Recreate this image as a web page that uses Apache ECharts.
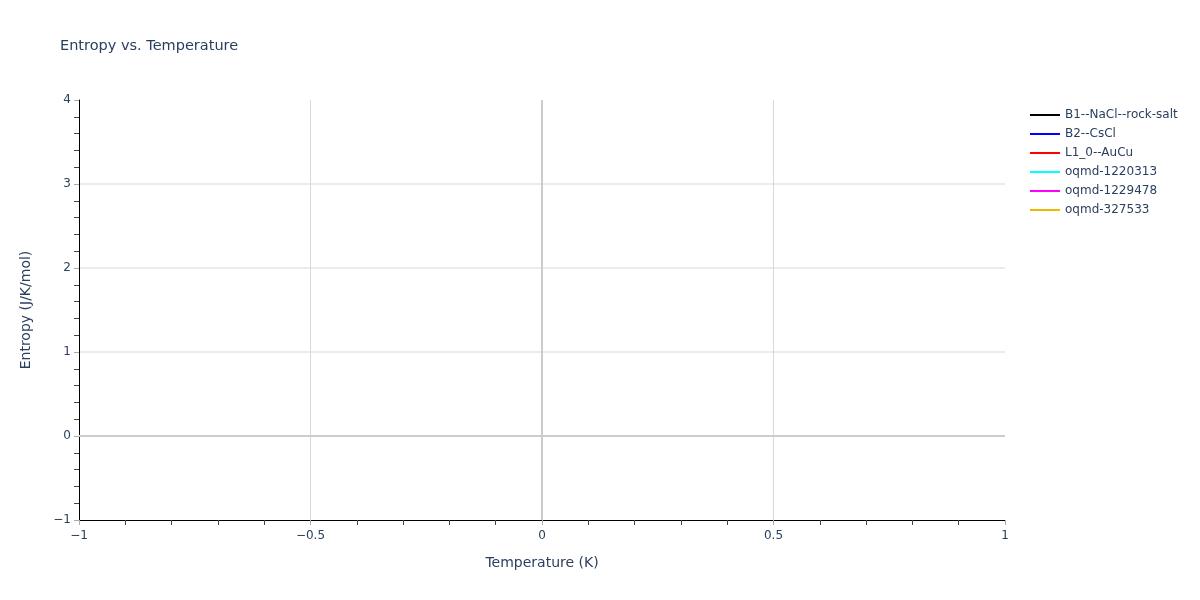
<!DOCTYPE html>
<html>
<head>
<meta charset="utf-8">
<script src="https://cdn.jsdelivr.net/npm/echarts@6/dist/echarts.min.js"></script>
<style>html,body{margin:0;padding:0;background:#fff}#c{width:1200px;height:600px}</style>
</head>
<body>
<div id="c"></div>
<script>
const seriesNames = ['B1--NaCl--rock-salt','B2--CsCl','L1_0--AuCu','oqmd-1220313','oqmd-1229478','oqmd-327533'];
const seriesColors = ['#000000','#0000ff','#ff0000','#00ffff','#ff00ff','#f2b600'];
// all series are empty in the reference
const seriesData = [[],[],[],[],[],[]];
const xRange = [-1, 1];
const yRange = [-1, 4];

const FONT = '"DejaVu Sans", Verdana, sans-serif';
const TXT = '#2a3f5f';
const fmt = v => (v < 0 ? '\u2212' + Math.abs(v) : String(v));

const chart = echarts.init(document.getElementById('c'));
const series = seriesNames.map((n, i) => ({
  name: n, type: 'line', data: seriesData[i], showSymbol: false,
  lineStyle: {color: seriesColors[i], width: 2}, itemStyle: {color: seriesColors[i]}
}));
series[0].markLine = {
  silent: true, symbol: 'none', label: {show: false}, animation: false,
  lineStyle: {color: '#cccccc', width: 2, type: 'solid'},
  data: [{xAxis: 0}, {yAxis: 0}]
};
chart.setOption({
  animation: false,
  textStyle: {fontFamily: FONT},
  title: {text: 'Entropy vs. Temperature', left: 55, top: 34,
    textStyle: {fontFamily: FONT, fontSize: 14.5, fontWeight: 'normal', color: TXT}},
  legend: {orient: 'vertical', left: 1025, top: 104, itemGap: 7, itemWidth: 30, itemHeight: 2,
    icon: 'rect', textStyle: {fontFamily: FONT, fontSize: 12, color: TXT}, data: seriesNames},
  grid: {left: 79, right: 195, top: 100, bottom: 80},
  xAxis: {type: 'value', min: xRange[0], max: xRange[1], interval: 0.5,
    name: 'Temperature (K)', nameLocation: 'middle', nameGap: 36,
    nameTextStyle: {fontFamily: FONT, fontSize: 14, color: TXT},
    axisLine: {show: true, onZero: false, lineStyle: {color: '#000', width: 1}},
    axisTick: {show: true, length: 5, lineStyle: {color: '#aaa'}},
    minorTick: {show: true, splitNumber: 5, length: 5, lineStyle: {color: '#444'}},
    axisLabel: {formatter: fmt, fontFamily: FONT, fontSize: 12, color: TXT, margin: 10},
    splitLine: {show: true, showMinLine: false, showMaxLine: false, lineStyle: {color: '#d9d9d9', width: 1}}},
  yAxis: {type: 'value', min: yRange[0], max: yRange[1], interval: 1,
    name: 'Entropy (J/K/mol)', nameLocation: 'middle', nameGap: 46,
    nameTextStyle: {fontFamily: FONT, fontSize: 14, color: TXT},
    axisLine: {show: true, onZero: false, lineStyle: {color: '#000', width: 1}},
    axisTick: {show: true, length: 5, lineStyle: {color: '#aaa'}},
    minorTick: {show: true, splitNumber: 5, length: 5, lineStyle: {color: '#444'}},
    axisLabel: {formatter: fmt, fontFamily: FONT, fontSize: 12, color: TXT, margin: 8},
    splitLine: {show: true, showMinLine: false, showMaxLine: false, lineStyle: {color: '#ebebeb', width: 2}}},
  series: series
});
</script>
</body>
</html>
